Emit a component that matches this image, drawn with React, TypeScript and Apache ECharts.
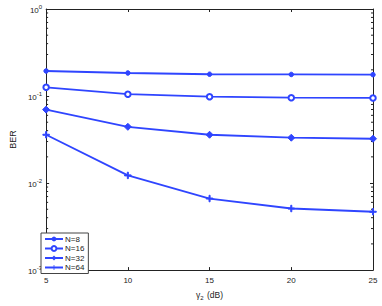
import React, { useEffect, useRef } from "react";
import * as echarts from "echarts";

const snr = [5, 10, 15, 20, 25];
const berN8 = [0.194, 0.184, 0.178, 0.177, 0.176];
const berN16 = [0.126, 0.105, 0.0982, 0.0957, 0.095];
const berN32 = [0.0698, 0.0443, 0.0359, 0.0332, 0.0323];
const berN64 = [0.0359, 0.01225, 0.00664, 0.0051, 0.00468];
const seriesNames = ["N=8", "N=16", "N=32", "N=64"];
const minorTickValues: number[] = [];
[0.001, 0.01, 0.1].forEach((d) => {
  for (let k = 2; k <= 9; k++) minorTickValues.push(+(d * k).toPrecision(3));
});

const BLUE = "#2f45ff";
const FONT = "Liberation Sans";

export default function App() {
  const ref = useRef<HTMLDivElement>(null);
  useEffect(() => {
    if (!ref.current) return;
    const chart = echarts.init(ref.current, undefined, { renderer: "svg" });
    const pair = (ys: number[]) => snr.map((x, i) => [x, ys[i]]);
    const plus = "path://M4.2,0h1.6v4.2h4.2v1.6h-4.2v4.2h-1.6v-4.2h-4.2v-1.6h4.2z";
    const mk = (name: string, data: number[], symbol: string, size: number) => ({
      name,
      type: "line",
      data: pair(data),
      symbol,
      symbolSize: size,
      showSymbol: true,
      lineStyle: { color: BLUE, width: 1.8 },
      itemStyle: { color: BLUE, borderColor: BLUE },
      xAxisIndex: 0,
      yAxisIndex: 0,
      z: 3,
    });
    const supLabel = (v: number) => {
      const e = Math.round(Math.log10(v));
      return "{b|10}{s|" + e + "}";
    };
    const rich = {
      b: { fontSize: 8, fontFamily: FONT, color: "#222", verticalAlign: "bottom" },
      s: { fontSize: 6, fontFamily: FONT, color: "#222", verticalAlign: "top", padding: [0, 0, 5, 0] },
    };
    chart.setOption({
      animation: false,
      backgroundColor: "#fff",
      textStyle: { fontFamily: FONT },
      grid: { left: 37, right: 9, top: 9, bottom: 34 },
      legend: {
        data: seriesNames,
        orient: "vertical",
        left: 41,
        top: 233,
        padding: [2, 4, 2, 3],
        itemGap: 1.5,
        itemWidth: 18,
        itemHeight: 6,
        borderColor: "#444",
        borderWidth: 1,
        borderRadius: 0,
        backgroundColor: "#fff",
        textStyle: { fontSize: 8, color: "#222", fontFamily: FONT, padding: [0, 0, 0, -3] },
      },
      xAxis: [
        {
          type: "value",
          min: 5,
          max: 25,
          interval: 5,
          position: "bottom",
          name: "{g|\u03b3}{sub|2} {g|(dB)}",
          nameLocation: "middle",
          nameGap: 15,
          nameTextStyle: {
            rich: {
              g: { fontSize: 8.5, fontFamily: FONT, color: "#222" },
              sub: { fontSize: 6, fontFamily: FONT, color: "#222", verticalAlign: "bottom", padding: [5, 0, 0, 0] },
            },
          },
          axisLine: { lineStyle: { color: "#222", width: 1 } },
          axisTick: { inside: true, length: 3, lineStyle: { color: "#222" } },
          axisLabel: { fontSize: 8, color: "#222", margin: 6, fontFamily: FONT },
          splitLine: { show: false },
        },
        {
          type: "value",
          min: 5,
          max: 25,
          interval: 5,
          position: "top",
          axisLine: { lineStyle: { color: "#222", width: 1 } },
          axisTick: { inside: true, length: 3, lineStyle: { color: "#222" } },
          axisLabel: { show: false },
          splitLine: { show: false },
        },
      ],
      yAxis: [
        {
          type: "log",
          logBase: 10,
          min: 0.001,
          max: 1,
          position: "left",
          name: "BER",
          nameLocation: "middle",
          nameGap: 27,
          nameTextStyle: { fontSize: 9, color: "#222", fontFamily: FONT },
          axisLine: { lineStyle: { color: "#222", width: 1 } },
          axisTick: { inside: true, length: 3, lineStyle: { color: "#222" } },
          axisLabel: { formatter: supLabel, rich, margin: 4 },
          splitLine: { show: false },
        },
        {
          type: "log",
          logBase: 10,
          min: 0.001,
          max: 1,
          position: "right",
          axisLine: { lineStyle: { color: "#222", width: 1 } },
          axisTick: { inside: true, length: 3, lineStyle: { color: "#222" } },
          axisLabel: { show: false },
          splitLine: { show: false },
        },
      ],
      series: [
        mk("N=8", berN8, "circle", 4.5),
        {
          ...mk("N=16", berN16, "emptyCircle", 5.5),
          itemStyle: { color: BLUE, borderColor: BLUE, borderWidth: 1.6 },
        },
        mk("N=32", berN32, "diamond", 7),
        mk("N=64", berN64, plus, 6.5),
        {
          name: "minor",
          type: "custom",
          xAxisIndex: 0,
          yAxisIndex: 0,
          silent: true,
          data: minorTickValues.map((v) => [5, v]),
          renderItem: (params: any, api: any) => {
            const v = api.value(1);
            const l = api.coord([5, v]);
            const r = api.coord([25, v]);
            return {
              type: "group",
              children: [
                { type: "line", shape: { x1: l[0], y1: l[1], x2: l[0] + 2, y2: l[1] }, style: { stroke: "#222", lineWidth: 1 } },
                { type: "line", shape: { x1: r[0], y1: r[1], x2: r[0] - 2, y2: r[1] }, style: { stroke: "#222", lineWidth: 1 } },
              ],
            };
          },
        },
      ],
    });
    return () => chart.dispose();
  }, []);
  return <div ref={ref} style={{ width: 382, height: 306, position: "absolute", left: 0, top: 0 }} />;
}
